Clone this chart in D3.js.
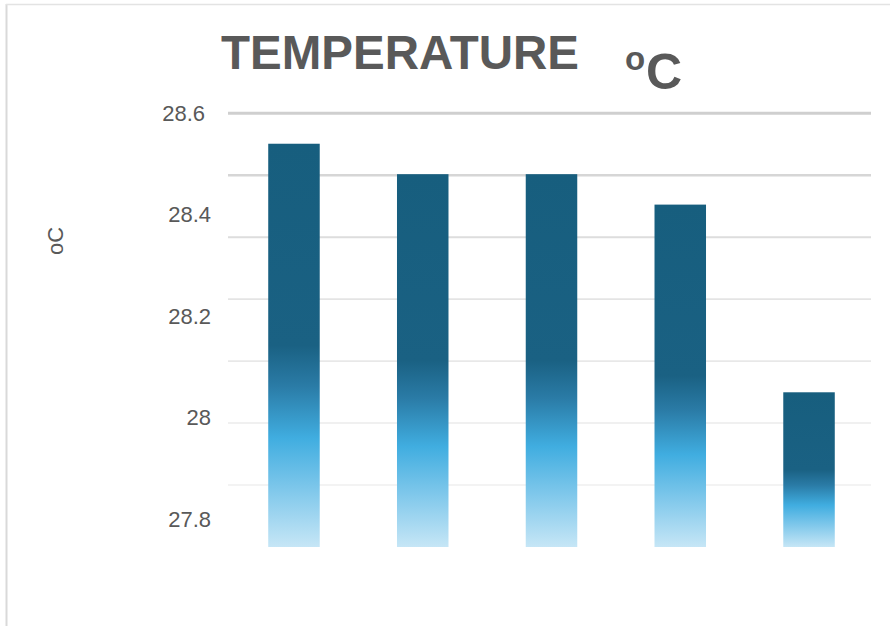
<!DOCTYPE html>
<html>
<head>
<meta charset="utf-8">
<script src="https://cdn.jsdelivr.net/npm/d3@7"></script>
<style>
  html, body { margin: 0; padding: 0; background: #fff; }
  svg { display: block; font-family: "Liberation Sans", Arial, sans-serif; }
</style>
</head>
<body>
<svg id="chart" width="890" height="626"></svg>
<script>
// Readings per site
const categories = ["1", "2", "3", "4", "5"];
const temperature = [28.54, 28.48, 28.48, 28.42, 28.05];
const tickLabels = [28.6, 28.4, 28.2, 28, 27.8];
const yDomain = [27.745, 28.6];

const svg = d3.select("#chart");
const textColor = "#595959";

// Frame edges
svg.append("line").attr("x1", 6.5).attr("x2", 6.5).attr("y1", 4).attr("y2", 626)
  .attr("stroke", "#d9d9d9").attr("stroke-width", 2);
svg.append("line").attr("x1", 6).attr("x2", 890).attr("y1", 4.5).attr("y2", 4.5)
  .attr("stroke", "#e3e3e3").attr("stroke-width", 1.5);

const x = d3.scaleBand().domain(categories).range([229.6, 873.4])
  .paddingInner(0.6).paddingOuter(0.3);
const y = d3.scaleLinear().domain(yDomain).range([547, 113.3]);

// Gradient fill for the bars
const grad = svg.append("defs").append("linearGradient")
  .attr("id", "barFill").attr("x1", 0).attr("y1", 0).attr("x2", 0).attr("y2", 1);
[[0, "#175e7e"], [0.5, "#1a6183"], [0.6, "#2a7ba6"], [0.73, "#40ade0"],
 [0.86, "#80c8eb"], [1, "#c6e6f6"]].forEach(([o, c]) =>
  grad.append("stop").attr("offset", o).attr("stop-color", c));

// Horizontal gridlines, seven even steps from the top of the axis
const gridCount = 7;
const gridVals = d3.range(gridCount).map(i => yDomain[1] - i * (yDomain[1] - yDomain[0]) / gridCount);
const gridColor = d3.scaleLinear().domain([0, 3, 6]).range(["#cfcfcf", "#e4e4e4", "#efefef"]);
const gridWidth = d3.scaleLinear().domain([0, 3, 6]).range([3, 1.6, 1.4]);
svg.append("g").selectAll("line").data(gridVals).join("line")
  .attr("x1", 228).attr("x2", 871)
  .attr("y1", d => y(d)).attr("y2", d => y(d))
  .attr("stroke", (d, i) => gridColor(i))
  .attr("stroke-width", (d, i) => gridWidth(i));

// Bars
svg.append("g").selectAll("rect").data(temperature).join("rect")
  .attr("x", (d, i) => x(categories[i]))
  .attr("width", x.bandwidth())
  .attr("y", d => y(d))
  .attr("height", d => y(yDomain[0]) - y(d))
  .attr("fill", "url(#barFill)");

// Y axis labels
const axis = d3.axisLeft(y).tickValues(tickLabels).tickSize(0).tickPadding(0)
  .tickFormat(d3.format("~g"));
const ax = svg.append("g").attr("transform", "translate(211,0)").call(axis);
ax.select(".domain").remove();
ax.selectAll("text").attr("fill", textColor).attr("font-size", 22)
  .attr("font-family", "Liberation Sans, Arial, sans-serif");
ax.selectAll("text").filter(d => d === 28.6).attr("x", -6);

// Title
svg.append("text").attr("x", 221).attr("y", 69).attr("fill", textColor)
  .attr("font-weight", "bold").attr("font-size", 47.5).text("TEMPERATURE");
svg.append("text").attr("x", 625).attr("y", 70).attr("fill", textColor)
  .attr("font-weight", "bold").attr("font-size", 33).text("o");
svg.append("text").attr("x", 646).attr("y", 89).attr("fill", textColor)
  .attr("font-weight", "bold").attr("font-size", 50).text("C");

// Y axis title
svg.append("text")
  .attr("transform", "translate(63,241) rotate(-90)")
  .attr("text-anchor", "middle").attr("fill", textColor).attr("font-size", 22)
  .text("oC");
</script>
</body>
</html>
